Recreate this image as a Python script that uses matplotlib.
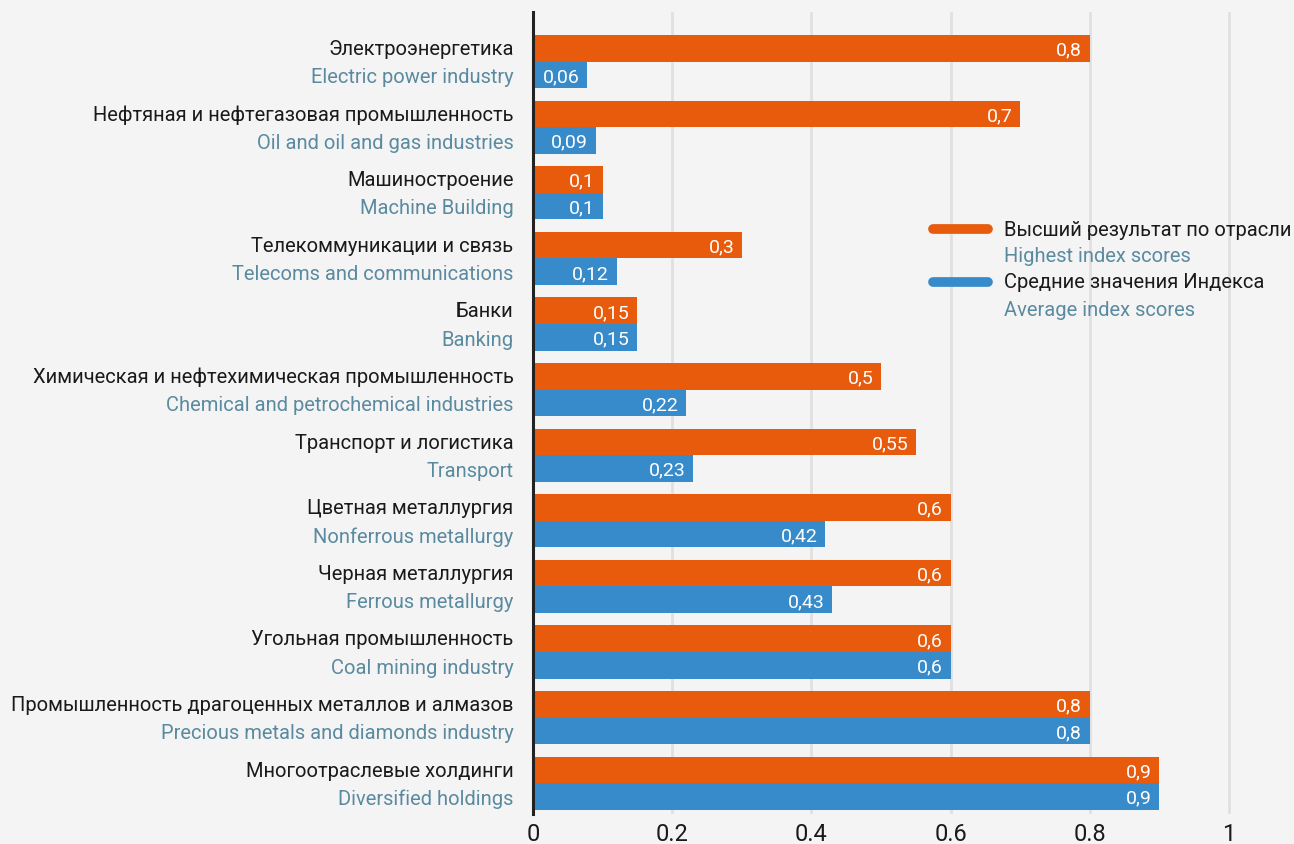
import matplotlib.pyplot as plt
from matplotlib.lines import Line2D

plt.rcParams['font.family'] = ['Liberation Sans Narrow', 'Roboto', 'DejaVu Sans']

labels_ru = ['Электроэнергетика', 'Нефтяная и нефтегазовая промышленность', 'Машиностроение',
             'Телекоммуникации и связь', 'Банки', 'Химическая и нефтехимическая промышленность',
             'Транспорт и логистика', 'Цветная металлургия', 'Черная металлургия',
             'Угольная промышленность', 'Промышленность драгоценных металлов и алмазов',
             'Многоотраслевые холдинги']
labels_en = ['Electric power industry', 'Oil and oil and gas industries', 'Machine Building',
             'Telecoms and communications', 'Banking', 'Chemical and petrochemical industries',
             'Transport', 'Nonferrous metallurgy', 'Ferrous metallurgy', 'Coal mining industry',
             'Precious metals and diamonds industry', 'Diversified holdings']
highest = [0.8, 0.7, 0.1, 0.3, 0.15, 0.5, 0.55, 0.6, 0.6, 0.6, 0.8, 0.9]
average = [0.06, 0.09, 0.1, 0.12, 0.15, 0.22, 0.23, 0.42, 0.43, 0.6, 0.8, 0.9]
xticks = [0, 0.2, 0.4, 0.6, 0.8, 1]

orange = '#e85a0c'
blue = '#388bcb'
en_color = '#5a8aa0'
bg = '#f4f4f4'

fig = plt.figure(figsize=(12.94, 8.45), dpi=100, facecolor=bg)
ax = fig.add_axes([533 / 1294, 1 - 815 / 845, 1 - 533 / 1294, (815 - 13) / 845])
ax.set_facecolor(bg)

# bars too short for their label get a minimum drawn length, as in the original
min_len = 0.078
h = 0.405
n = len(labels_ru)
for i in range(n):
    for val, off, col in [(highest[i], -h / 2, orange), (average[i], h / 2, blue)]:
        w = max(val, min_len)
        ax.barh(i + off, w, height=h, color=col, zorder=3)
        ax.text(w - 0.011, i + off + 0.02, ('%g' % val).replace('.', ','), color='white',
                ha='right', va='center', fontsize=14, zorder=4)
    ax.text(-0.028, i - 0.2, labels_ru[i], ha='right', va='center', fontsize=14.5, color='#1a1a1a')
    ax.text(-0.028, i + 0.23, labels_en[i], ha='right', va='center', fontsize=14.5, color=en_color)

ax.set_ylim(11.47, -0.755)
ax.set_xlim(0, (1294 - 533) / 696)
ax.set_xticks(xticks)
ax.set_xticklabels([('%g' % t) for t in xticks], fontsize=17, color='#1a1a1a')
ax.set_yticks([])
ax.tick_params(axis='x', length=0, pad=6)
ax.grid(axis='x', color='#e0e0e0', lw=2, zorder=1)
for s in ['top', 'right', 'bottom']:
    ax.spines[s].set_visible(False)
ax.spines['left'].set_color('#222222')
ax.spines['left'].set_linewidth(2.2)
ax.spines['left'].set_zorder(5)

# legend
for y0, col, ru, en in [(230, orange, 'Высший результат по отрасли', 'Highest index scores'),
                        (283, blue, 'Средние значения Индекса', 'Average index scores')]:
    fig.add_artist(Line2D([933 / 1294, 988 / 1294], [1 - y0 / 845] * 2, color=col, lw=7,
                          solid_capstyle='round', transform=fig.transFigure))
    fig.text(1004 / 1294, 1 - y0 / 845, ru, ha='left', va='center', fontsize=14.5, color='#1a1a1a')
    fig.text(1004 / 1294, 1 - (y0 + 27) / 845, en, ha='left', va='center', fontsize=14.5, color=en_color)

fig.savefig('out.png', dpi=100, facecolor=bg)
